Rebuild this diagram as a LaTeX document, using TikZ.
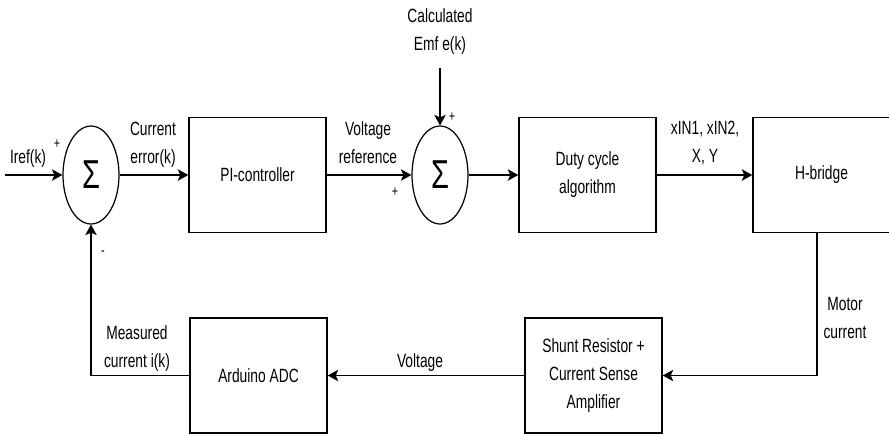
\documentclass[tikz,border=0pt]{standalone}
\usepackage{fontspec}
\setmainfont[FakeStretch=0.72]{Liberation Sans}
\usetikzlibrary{arrows.meta,shapes.geometric}

\begin{document}
\begin{tikzpicture}[x=0.02cm,y=-0.02cm,line width=0.7pt,>={Stealth[length=2.1mm,width=2.3mm,inset=0.5mm]},
  block/.style={draw,line width=0.85pt,minimum width=2.74cm,minimum height=2.3cm,inner sep=0pt,align=center,font=\fontsize{10.9}{15.9}\selectfont},
  summer/.style={draw,ellipse,minimum width=1.12cm,minimum height=1.96cm,inner sep=0pt,font=\fontsize{23}{23}\selectfont},
  lbl/.style={align=center,inner sep=0pt,font=\fontsize{10.9}{15.9}\selectfont},
  sgn/.style={inner sep=0pt,font=\fontsize{8.5}{8.5}\selectfont}]
  \useasboundingbox (0,0) rectangle (889,434);
  % ===================== lazo directo (arriba) =====================
  \node[summer] (sum1) at (91,175) {Σ};
  \node[block] (pi) at (257.5,175) {PI-controller};
  \node[summer] (sum2) at (440,175) {Σ};
  \node[block] (duty) at (587.5,175) {Duty cycle\\algorithm};
  \node[block] (hb) at (821.5,175) {H-bridge};
  % ===================== realimentacion (abajo) =====================
  \node[block] (shunt) at (593.5,375.5) {Shunt Resistor +\\Current Sense\\Amplifier};
  \node[block] (adc) at (258.5,375.5) {Arduino ADC};
  % ---------- entradas ----------
  \coordinate (iref) at (5,175);
  \coordinate (emf) at (440,68);
  % ---------- conexiones ----------
  \draw[->] (iref) -- (sum1.west);
  \draw[->] (sum1.east) -- (pi.west);
  \draw[->] (pi.east) -- (sum2.west);
  \draw[->] (emf) -- (sum2.north);
  \draw[->] (sum2.east) -- (duty.west);
  \draw[->] (duty.east) -- (hb.west);
  \draw[->] ([xshift=-0.09cm]hb.south) |- (shunt.east);
  \draw[->] (shunt.west) -- (adc.east);
  \draw[->] (adc.west) -| (sum1.south);
  % ---------- etiquetas ----------
  \node[lbl] (lref) at (28,159) {Iref(k)};
  \node[lbl] (lerr) at (153,145) {Current\\error(k)};
  \node[lbl] (lvref) at (368,143) {Voltage\\reference};
  \node[lbl] (lemf) at (440,32) {Calculated\\Emf e(k)};
  \node[lbl] (lsig) at (705,143) {xIN1, xIN2,\\X, Y};
  \node[lbl] (lmot) at (845,318) {Motor\\current};
  \node[lbl] (lvolt) at (420,363) {Voltage};
  \node[lbl] (lmeas) at (137,349) {Measured\\current i(k)};
  % ---------- signos ----------
  \node[sgn] (s1) at (57,144) {+};
  \node[sgn] (s2) at (103,253) {-};
  \node[sgn] (s3) at (452,117) {+};
  \node[sgn] (s4) at (395,192) {+};
\end{tikzpicture}
\end{document}
